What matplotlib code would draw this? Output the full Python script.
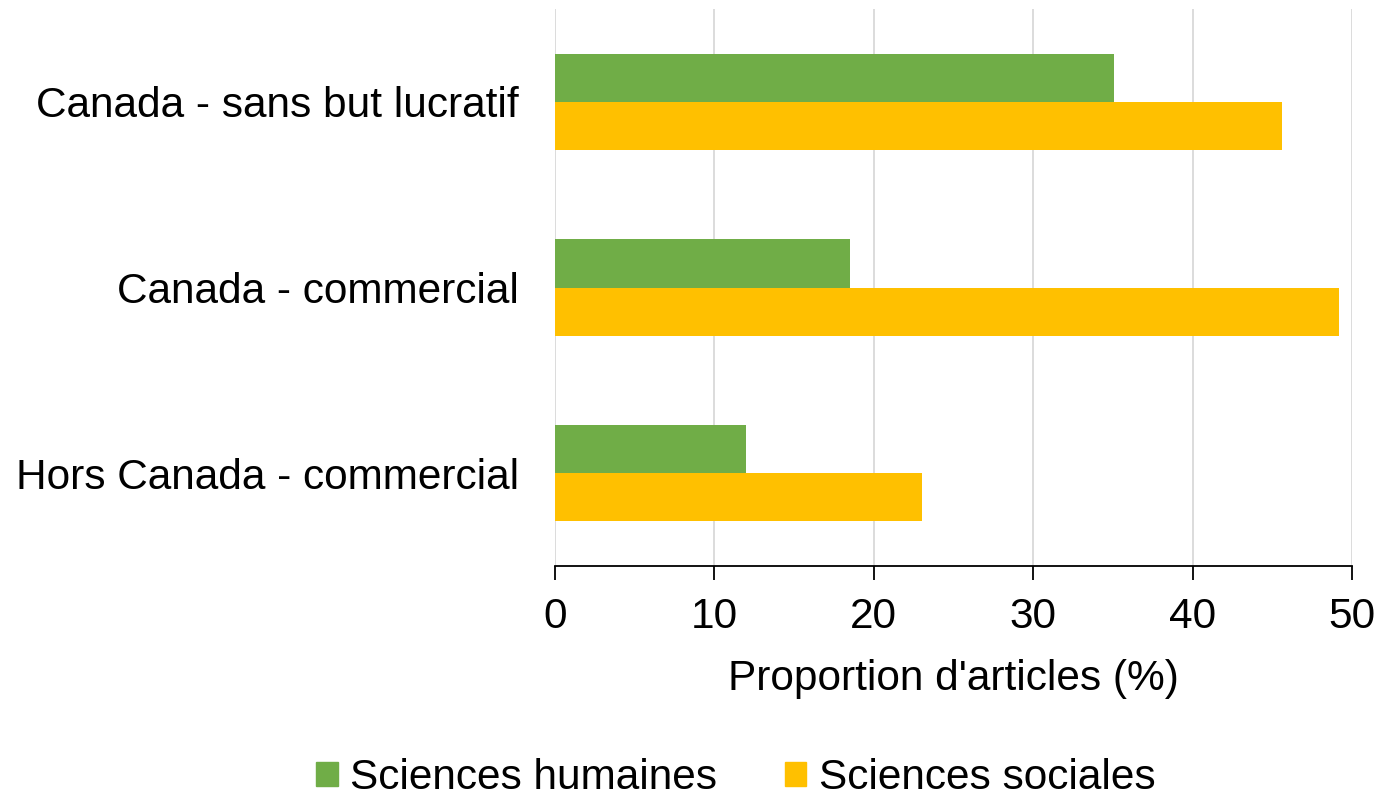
import matplotlib
matplotlib.use("Agg")
import matplotlib.pyplot as plt
from matplotlib.patches import Patch
import numpy as np

categories = ["Canada - sans but lucratif", "Canada - commercial", "Hors Canada - commercial"]
humaines = [35.1, 18.5, 12.0]
sociales = [45.6, 49.2, 23.0]
series_names = ["Sciences humaines", "Sciences sociales"]
colors = ["#70AD47", "#FFC000"]
xticks = [0, 10, 20, 30, 40, 50]

plt.rcParams['font.family'] = ['Liberation Sans', 'DejaVu Sans']
FS = 30.5

fig = plt.figure(figsize=(13.99, 7.96), dpi=100)
ax = fig.add_axes([555/1399, 1-566/796, (1352-555)/1399, (566-9)/796])

y = np.arange(len(categories))
h = 0.26
ax.barh(y - h/2, humaines, height=h, color=colors[0], zorder=3)
ax.barh(y + h/2, sociales, height=h, color=colors[1], zorder=3)

ax.set_ylim(len(categories) - 0.5, -0.5)
ax.set_xlim(0, 50)
ax.set_xticks(xticks)
ax.set_xticklabels([str(t) for t in xticks], fontsize=FS)
ax.set_yticks(y)
ax.set_yticklabels(categories, fontsize=FS)
ax.tick_params(axis='y', length=0, pad=26)
ax.tick_params(axis='x', length=10, width=1.3, direction='out', pad=12, color='black')
ax.xaxis.grid(True, color='#d9d9d9', linewidth=1.3, zorder=0)
for s in ['top', 'right', 'left']:
    ax.spines[s].set_visible(False)
ax.spines['bottom'].set_linewidth(1.3)
ax.spines['bottom'].set_color('black')

ax.set_xlabel("Proportion d'articles (%)", fontsize=FS, labelpad=16)

handles = [Patch(color=colors[0], label=series_names[0]), Patch(color=colors[1], label=series_names[1])]
fig.legend(handles=handles, loc='center', bbox_to_anchor=(736/1399, 1-778/796), ncol=2,
           frameon=False, fontsize=FS, handlelength=0.5, handleheight=0.5,
           handletextpad=0.3, columnspacing=1.6)

fig.savefig("out.png", dpi=100)
